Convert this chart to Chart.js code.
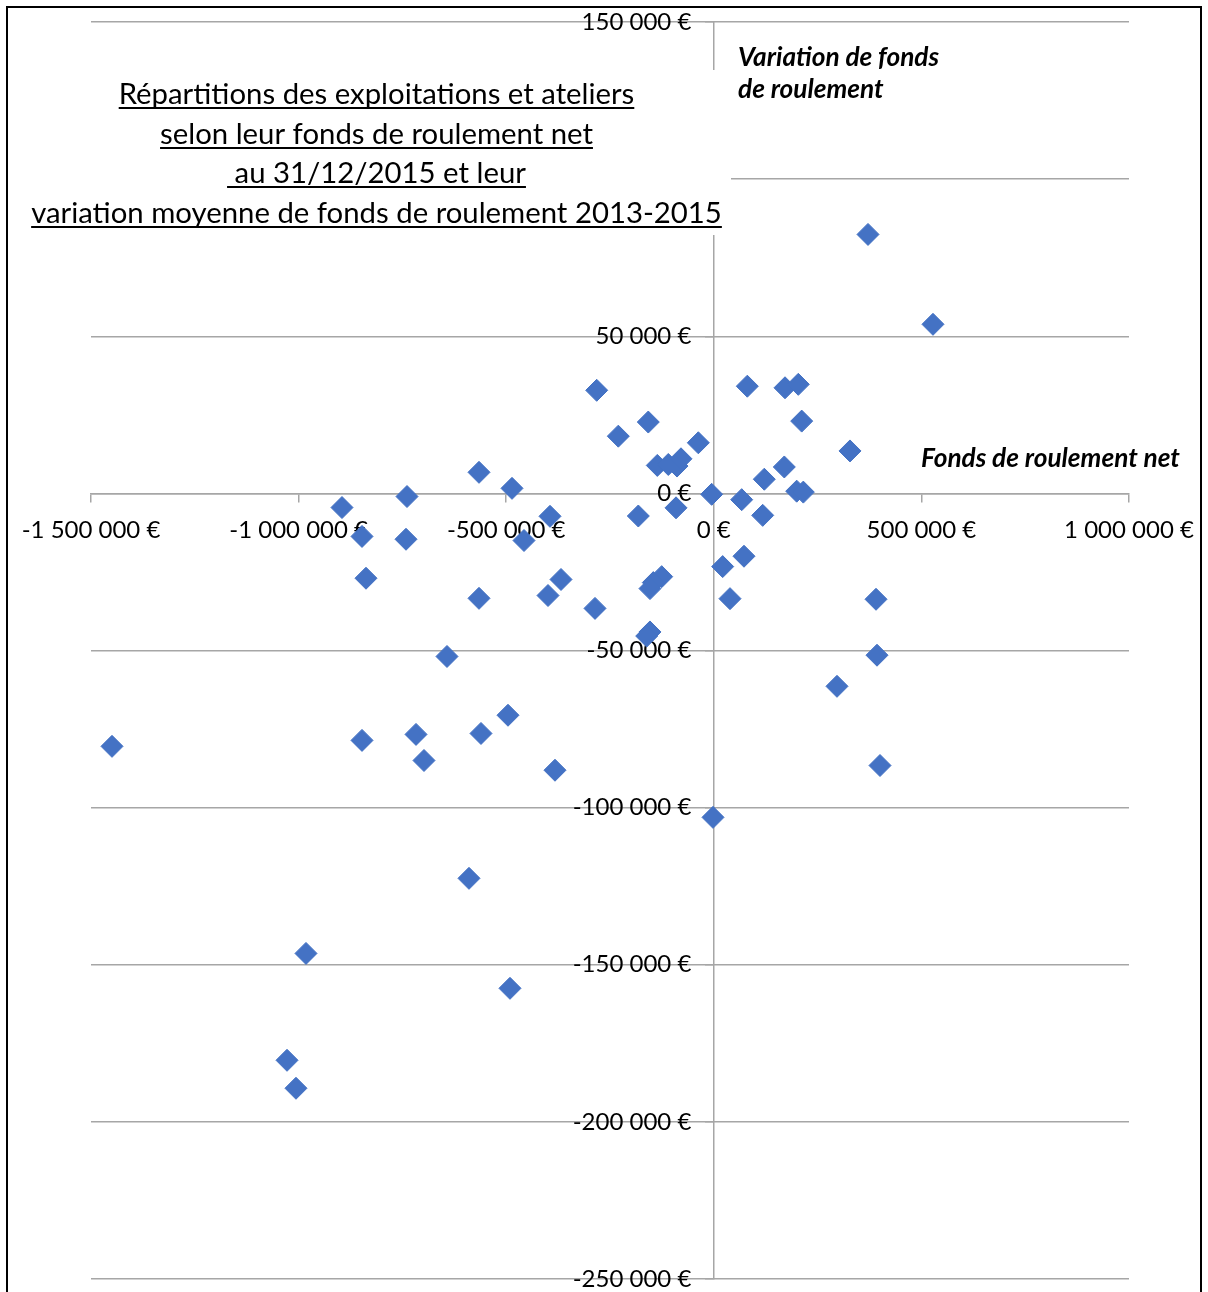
<!DOCTYPE html>
<html lang="fr">
<head>
<meta charset="utf-8">
<title>Fonds de roulement</title>
<script src="https://cdn.jsdelivr.net/npm/chart.js@4.4.1/dist/chart.umd.min.js"></script>
<style>
  html, body { margin: 0; padding: 0; background: #fff; overflow: hidden; }
  #wrap { position: relative; width: 1208px; height: 1292px; }
</style>
</head>
<body>
<div id="wrap"><canvas id="chart"></canvas></div>
<script>
// fonds de roulement net au 31/12/2015 (€)
const fondsRoulement = [
	371400, 527900, -282000, 80700, 171500, 203500, 211700, -157800, -230000, -37300,
	328000, -136100, -109600, -88600, -79000, 169800, -565500, 121600, -486000, -738900,
	199700, 215600, -5100, 67200, -895500, -91000, -181800, -394500, 117800, -847300,
	-741300, -457100, 72700, 21400, -837700, -368000, -125500, -145700, -153700, -399300,
	-565500, 39000, 390700, -286100, -153700, -161600, -642600, 393100, 296700, -495700,
	-717200, -560700, -847300, -1449400, -698000, -382500, 400300, -1900, -589600, -982200,
	-490900, -1027900, -1006300
];

// variation moyenne de fonds de roulement 2013-2015 (€)
const variationFonds = [
	82400, 53800, 32800, 34100, 33600, 34700, 23000, 22700, 18200, 16100,
	13500, 8900, 9200, 8700, 11000, 8400, 6700, 4500, 1600, -1000,
	700, 400, -300, -2000, -4500, -4600, -7200, -7300, -7000, -13700,
	-14600, -15000, -20000, -23300, -27000, -27400, -26500, -28400, -30300, -32500,
	-33400, -33500, -33700, -36600, -44100, -45400, -51900, -51500, -61400, -70600,
	-76700, -76400, -78600, -80500, -85000, -88100, -86600, -103100, -122500, -146400,
	-157500, -180400, -189300
];

const xTickValues = [-1500000, -1000000, -500000, 0, 500000, 1000000];
const yTickValues = [-250000, -200000, -150000, -100000, -50000, 0, 50000, 100000, 150000];

const titleLines = [
	'Répartitions des exploitations et ateliers',
	'selon leur fonds de roulement net',
	' au 31/12/2015 et leur',
	'variation moyenne de fonds de roulement 2013-2015'
];
const yAxisTitle = ['Variation de fonds', 'de roulement'];
const xAxisTitle = 'Fonds de roulement net';

const gridColor = '#a6a6a6';
const pointColor = '#4472c4';

// "-1 500 000 €" style labels
function euro( v ) {
	const s = Math.abs( Math.round( v ) ).toString().replace( /\B(?=(\d{3})+(?!\d))/g, ' ' );
	return ( v < 0 ? '-' : '' ) + s + ' €';
}

// y labels sit right on the axis, so push them off it with wide spaces
function euroY( v ) {
	return euro( v ) + '\u2003\u200A\u2009';
}

// font size so that a text fits a given width
function fitFont( ctx, style, family, text, width ) {
	ctx.font = style + ' 100px ' + family;
	return 100 * width / ctx.measureText( text ).width;
}

const decor = {
	id: 'decor',
	beforeDraw: function ( chart ) {
		const ctx = chart.ctx;
		ctx.save();
		ctx.fillStyle = '#fff';
		ctx.fillRect( 0, 0, chart.width, chart.height );
		ctx.restore();
	},
	afterDraw: function ( chart ) {
		const ctx = chart.ctx;
		ctx.save();

		// white title box, it hides the grid line and axis behind it
		ctx.fillStyle = '#fff';
		ctx.fillRect( 20, 70, 711, 165 );

		// chart title, underlined
		const size = fitFont( ctx, 'normal', 'Lato', titleLines[3], 691 );
		ctx.font = size + 'px Lato';
		ctx.fillStyle = '#000';
		ctx.strokeStyle = '#000';
		ctx.lineWidth = 2;
		ctx.textAlign = 'center';
		ctx.textBaseline = 'alphabetic';
		const baselines = [104, 144, 183, 223];
		titleLines.forEach( function ( line, i ) {
			const w = ctx.measureText( line ).width;
			ctx.fillText( line, 376.5, baselines[i] );
			ctx.beginPath();
			ctx.moveTo( 376.5 - w / 2, baselines[i] + 4 );
			ctx.lineTo( 376.5 + w / 2, baselines[i] + 4 );
			ctx.stroke();
		} );

		// axis titles
		const axSize = fitFont( ctx, 'italic bold', 'Lato', xAxisTitle, 259 );
		ctx.font = 'italic bold ' + axSize + 'px Lato';
		ctx.textAlign = 'left';
		ctx.fillText( yAxisTitle[0], 738, 66 );
		ctx.fillText( yAxisTitle[1], 738, 98 );
		ctx.fillText( xAxisTitle, 921, 467 );

		// frame
		ctx.strokeStyle = '#000';
		ctx.lineWidth = 2;
		ctx.beginPath();
		ctx.moveTo( 7, chart.height );
		ctx.lineTo( 7, 7 );
		ctx.lineTo( 1201, 7 );
		ctx.lineTo( 1201, chart.height );
		ctx.stroke();

		ctx.restore();
	}
};

const points = fondsRoulement.map( function ( x, i ) {
	return {x: x, y: variationFonds[i]};
} );

new Chart( document.getElementById( 'chart' ), {
	type: 'scatter',
	data: {
		datasets: [{
			data: points,
			pointStyle: 'rectRot',
			pointRadius: 11,
			pointBackgroundColor: pointColor,
			pointBorderColor: pointColor,
			pointBorderWidth: 1
		}]
	},
	options: {
		responsive: true,
		maintainAspectRatio: false,
		animation: false,
		events: [],
		layout: {
			padding: {left: 91, right: 79, top: 22, bottom: 13}
		},
		plugins: {
			legend: {display: false},
			tooltip: {enabled: false}
		},
		scales: {
			x: {
				type: 'linear',
				position: {y: 0},
				min: -1500000,
				max: 1000000,
				afterBuildTicks: function ( scale ) {
					scale.ticks = xTickValues.map( function ( v ) { return {value: v}; } );
				},
				grid: {
					drawOnChartArea: false,
					drawTicks: true,
					tickLength: 8,
					color: gridColor,
					lineWidth: 1.5
				},
				border: {display: true, color: gridColor, width: 1.5},
				ticks: {
					callback: euro,
					padding: 14,
					maxRotation: 0,
					autoSkip: false,
					color: '#000',
					font: {family: 'Lato', size: 24}
				}
			},
			y: {
				type: 'linear',
				position: {x: 0},
				min: -250000,
				max: 150000,
				afterBuildTicks: function ( scale ) {
					scale.ticks = yTickValues.map( function ( v ) { return {value: v}; } );
				},
				grid: {
					drawOnChartArea: true,
					drawTicks: true,
					tickLength: 8,
					color: gridColor,
					lineWidth: 1.5
				},
				border: {display: true, color: gridColor, width: 1.5},
				ticks: {
					callback: euroY,
					padding: 0,
					autoSkip: false,
					color: '#000',
					font: {family: 'Lato', size: 24, lineHeight: 1}
				}
			}
		}
	},
	plugins: [decor]
} );
</script>
</body>
</html>
